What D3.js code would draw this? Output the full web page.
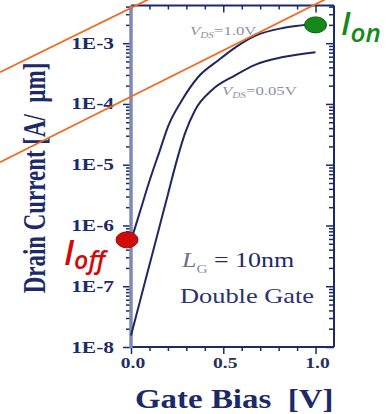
<!DOCTYPE html>
<html>
<head>
<meta charset="utf-8">
<script src="https://cdn.jsdelivr.net/npm/d3@7"></script>
<style>
  html, body { margin: 0; padding: 0; background: #fff; }
  svg { display: block; }
  text { white-space: pre; }
</style>
</head>
<body>
<svg id="chart" width="386" height="414"></svg>
<script>
// gate bias (V) and drain current (A/um)
var vgsHigh = [0, 0.05, 0.10, 0.157, 0.20, 0.276, 0.363, 0.472, 0.57, 0.672, 0.824, 0.943, 1.0];
var idHigh  = [5.6e-7, 1.74e-6, 5.4e-6, 1.74e-5, 4.2e-5, 1.15e-4, 2.75e-4, 5.2e-4, 8.7e-4, 1.32e-3, 1.78e-3, 2.0e-3, 2.14e-3];
var vgsLow  = [0, 0.05, 0.10, 0.15, 0.20, 0.249, 0.293, 0.347, 0.439, 0.564, 0.672, 0.824, 1.0];
var idLow   = [1.55e-8, 5.9e-8, 2.24e-7, 8.5e-7, 3.24e-6, 1.2e-5, 3.3e-5, 7.9e-5, 1.7e-4, 2.95e-4, 4.4e-4, 5.9e-4, 7.1e-4];

// orange guide lines (end points in data units)
var guideA = [[-0.71, 3.33e-4], [0.157, 6.5e-3]];
var guideB = [[-0.71, 1.10e-5], [1.13, 6.9e-3]];

var ionPoint  = [1.0, 2.0e-3];
var ioffPoint = [0.0, 5.8e-7];

var yDecades = [1e-8, 1e-7, 1e-6, 1e-5, 1e-4, 1e-3];
var yLabels  = ["1E-8", "1E-7", "1E-6", "1E-5", "1E-4", "1E-3"];
var xMajor   = [0, 0.5, 1.0];
var xLabels  = ["0.0", "0.5", "1.0"];

var navy = "#1c2a69";
var serif = "'Liberation Serif', 'Times New Roman', serif";
var sans = "'Open Sans', 'Noto Sans', sans-serif";

var svg = d3.select("#chart");

var x = d3.scaleLinear().domain([0, 1.1]).range([131, 334]);
var y = d3.scaleLog().domain([1e-8, Math.pow(10, -2.38)]).range([347, 5.5]);

// minor ticks
var yMinor = [];
yDecades.forEach(function(d) {
	for (var k = 2; k <= 9; k++) {
		if (d * k < y.domain()[1]) yMinor.push(d * k);
	}
});
var xMinor = d3.range(0, 11).map(function(i) { return i / 10; }).filter(function(v) {
	return xMajor.indexOf(v) < 0;
});

function axisPart(gen, tx, ty, values, size) {
	var g = svg.append("g")
		.attr("transform", "translate(" + tx + "," + ty + ")")
		.call(gen.tickValues(values).tickSize(size).tickSizeOuter(0).tickFormat(""));
	g.select(".domain").remove();
	g.selectAll("line").attr("stroke", navy).attr("stroke-width", 1.5);
	return g;
}

// left (outside), right (inside), bottom (outside), top (inside)
axisPart(d3.axisLeft(y), 131, 0, yDecades, 8);
axisPart(d3.axisLeft(y), 131, 0, yMinor, 5);
axisPart(d3.axisLeft(y), 334, 0, yDecades, 8);
axisPart(d3.axisLeft(y), 334, 0, yMinor, 5);
axisPart(d3.axisBottom(x), 0, 347, xMajor, 7);
axisPart(d3.axisBottom(x), 0, 347, xMinor, 4);
axisPart(d3.axisBottom(x), 0, 5.5, xMajor, 7);
axisPart(d3.axisBottom(x), 0, 5.5, xMinor, 4);

// frame
svg.append("line").attr("x1", 131).attr("x2", 334).attr("y1", 5.5).attr("y2", 5.5)
	.attr("stroke", navy).attr("stroke-width", 2);
svg.append("line").attr("x1", 334).attr("x2", 334).attr("y1", 5.5).attr("y2", 347)
	.attr("stroke", navy).attr("stroke-width", 2);
svg.append("line").attr("x1", 131).attr("x2", 334).attr("y1", 347).attr("y2", 347)
	.attr("stroke", navy).attr("stroke-width", 2.2);
svg.append("line").attr("x1", 131).attr("x2", 131).attr("y1", 5.5).attr("y2", 348)
	.attr("stroke", "#7f8ab3").attr("stroke-width", 3.5);

// tick labels
function stretched(tx, ty, sx, anchor) {
	return svg.append("g")
		.attr("transform", "translate(" + tx + "," + ty + ") scale(" + sx + ",1)")
		.append("text")
		.attr("text-anchor", anchor);
}

yDecades.forEach(function(d, i) {
	stretched(114, y(d) + 5.5, 1.34, "end")
		.attr("font-family", serif).attr("font-weight", "bold").attr("font-size", 16)
		.attr("fill", navy).text(yLabels[i]);
});
xMajor.forEach(function(v, i) {
	stretched(x(v) + 2, 368, 1.4, "middle")
		.attr("font-family", serif).attr("font-weight", "bold").attr("font-size", 14)
		.attr("fill", "#26305f").text(xLabels[i]);
});

// axis titles
stretched(135, 408, 1.22, "start")
	.attr("font-family", serif).attr("font-weight", "bold").attr("font-size", 27)
	.attr("fill", navy).text("Gate Bias  [V]");

svg.append("g")
	.attr("transform", "translate(45,178) rotate(-90) scale(0.74,1)")
	.append("text")
	.attr("text-anchor", "middle")
	.attr("font-family", serif).attr("font-weight", "bold").attr("font-size", 31)
	.attr("fill", navy).text("Drain Current [A/  \u00b5m]");

// curves
var line = d3.line()
	.x(function(d) { return x(d[0]); })
	.y(function(d) { return y(d[1]); })
	.curve(d3.curveMonotoneX);

[[vgsHigh, idHigh], [vgsLow, idLow]].forEach(function(s) {
	svg.append("path")
		.datum(s[0].map(function(v, i) { return [v, s[1][i]]; }))
		.attr("d", line)
		.attr("fill", "none")
		.attr("stroke", "#1f2760")
		.attr("stroke-width", 2);
});

// V_DS labels
function vdsLabel(tx, ty, value) {
	var t = stretched(tx, ty, 1.4, "start")
		.attr("font-family", serif).attr("font-size", 12).attr("fill", "#8d90a6");
	t.append("tspan").attr("font-style", "italic").text("V");
	t.append("tspan").attr("font-style", "italic").attr("font-size", 8).attr("dy", 3).text("DS");
	t.append("tspan").attr("dy", -3).text("=" + value);
}
vdsLabel(190, 35, "1.0V");
vdsLabel(222, 95, "0.05V");

// L_G and Double Gate
var lg = stretched(182, 267, 1.18, "start")
	.attr("font-family", serif).attr("font-size", 22);
lg.append("tspan").attr("font-style", "italic").attr("fill", "#6c7096").text("L");
lg.append("tspan").attr("font-size", 13).attr("dy", 6).attr("fill", "#8a8eaa").text("G");
lg.append("tspan").attr("dy", -6).attr("fill", navy).text(" = 10nm");

stretched(180, 303, 1.2, "start")
	.attr("font-family", serif).attr("font-size", 22).attr("fill", "#2a3272")
	.text("Double Gate");

// guide lines
[guideA, guideB].forEach(function(g) {
	svg.append("path")
		.datum(g)
		.attr("d", d3.line().x(function(d) { return x(d[0]); }).y(function(d) { return y(d[1]); }))
		.attr("fill", "none")
		.attr("stroke", "#f26a1f")
		.attr("stroke-width", 1.8);
});

// Ion / Ioff markers
svg.append("ellipse")
	.attr("cx", x(ionPoint[0])).attr("cy", y(ionPoint[1]))
	.attr("rx", 11).attr("ry", 8)
	.attr("fill", "#14891a").attr("stroke", "#0d5c12").attr("stroke-width", 1);
svg.append("ellipse")
	.attr("cx", x(ioffPoint[0]) - 4).attr("cy", y(ioffPoint[1]))
	.attr("rx", 11).attr("ry", 8)
	.attr("fill", "#d20a0a").attr("stroke", "#8e1010").attr("stroke-width", 1);

var ion = svg.append("text").attr("x", 341).attr("y", 35)
	.attr("font-family", sans).attr("font-style", "italic").attr("font-weight", 600)
	.attr("fill", "#16891c");
ion.append("tspan").attr("font-size", 32).text("I");
ion.append("tspan").attr("font-size", 26).attr("dy", 7).text("on");

var ioff = svg.append("text").attr("x", 64).attr("y", 265)
	.attr("font-family", sans).attr("font-style", "italic").attr("font-weight", 600)
	.attr("fill", "#d20a0a");
ioff.append("tspan").attr("font-size", 34).text("I");
ioff.append("tspan").attr("font-size", 25).attr("dy", 4).text("off");
</script>
</body>
</html>
